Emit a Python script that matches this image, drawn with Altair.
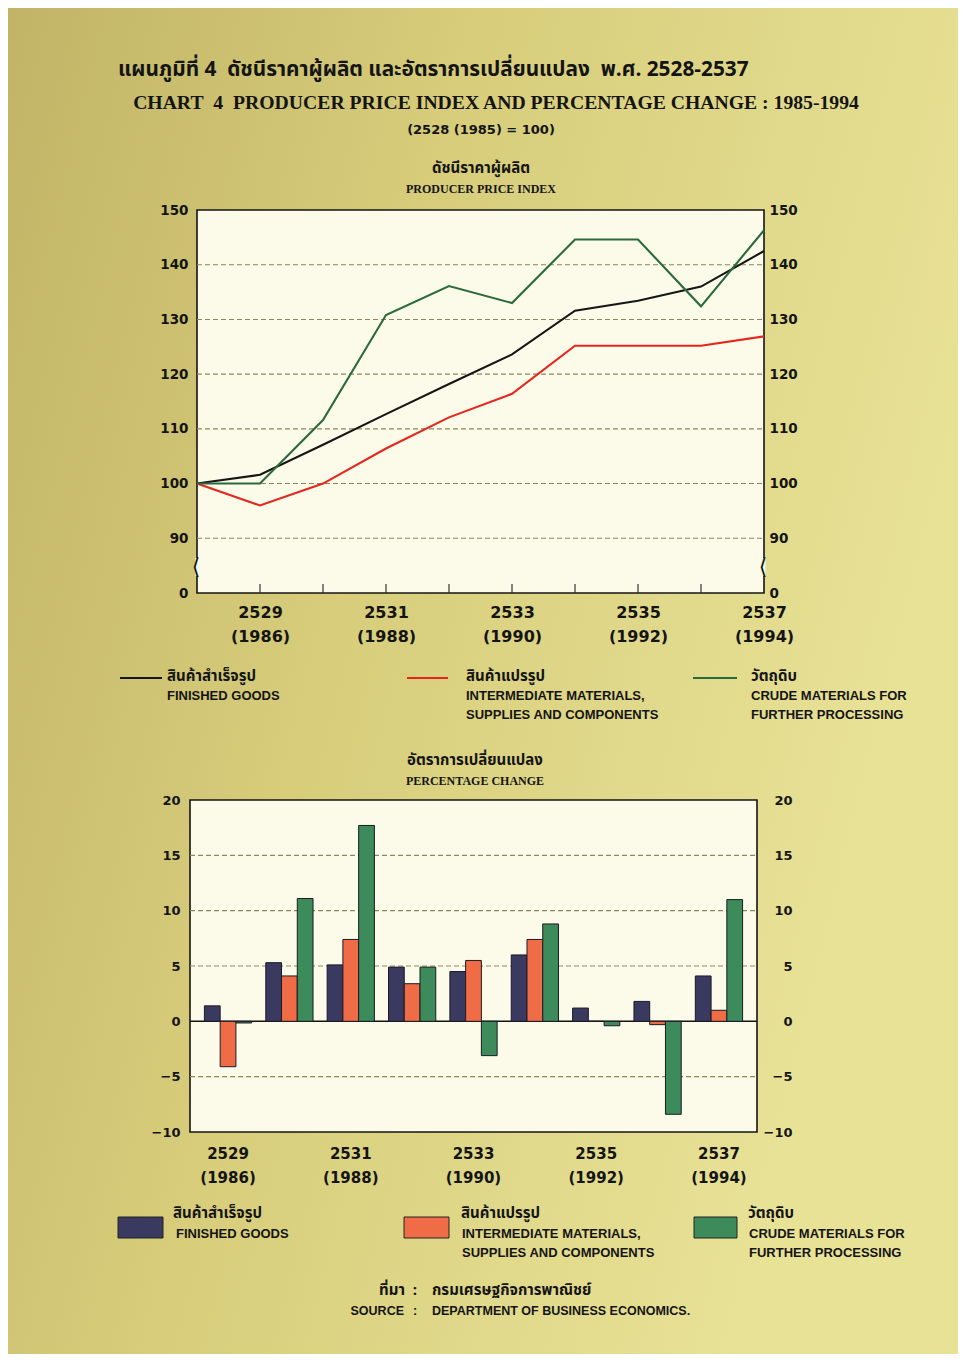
import altair as alt
import pandas as pd

# ---------------- data ----------------
years = [1985, 1986, 1987, 1988, 1989, 1990, 1991, 1992, 1993, 1994]
finished = [100, 101.6, 107.1, 112.7, 118.2, 123.6, 131.6, 133.4, 136.0, 142.5]
intermediate = [100, 96.0, 100.0, 106.4, 112.1, 116.4, 125.2, 125.2, 125.2, 126.9]
crude = [100, 100.0, 111.6, 130.8, 136.1, 133.0, 144.6, 144.6, 132.4, 146.3]

bar_years = [1986, 1987, 1988, 1989, 1990, 1991, 1992, 1993, 1994]
pct_finished = [1.4, 5.3, 5.1, 4.9, 4.5, 6.0, 1.2, 1.8, 4.1]
pct_intermediate = [-4.1, 4.1, 7.4, 3.4, 5.5, 7.4, 0.0, -0.3, 1.0]
pct_crude = [-0.15, 11.1, 17.7, 4.9, -3.1, 8.8, -0.4, -8.4, 11.0]

series_keys = ["finished", "intermediate", "crude"]
line_colors = ["#161616", "#e5261c", "#2b6a3b"]
bar_colors = ["#3a3960", "#ef6c47", "#3d8a5b"]

index_ticks = [80, 90, 100, 110, 120, 130, 140, 150]
index_grid = [90, 100, 110, 120, 130, 140]
inner_year_ticks = [1986, 1987, 1988, 1989, 1990, 1991, 1992, 1993]
label_years = [1986, 1988, 1990, 1992, 1994]
pct_ticks = [-10, -5, 0, 5, 10, 15, 20]
pct_grid = [-5, 5, 10, 15]

NB = "\u00a0"
title_th = "แผนภูมิที่ 4" + NB + " ดัชนีราคาผู้ผลิต และอัตราการเปลี่ยนแปลง" + NB + " พ.ศ. 2528-2537"
title_en = "CHART" + NB + " 4" + NB + " PRODUCER PRICE INDEX AND PERCENTAGE CHANGE : 1985-1994"
base_note = "(2528 (1985) = 100)"
sub1_th = "ดัชนีราคาผู้ผลิต"
sub1_en = "PRODUCER PRICE INDEX"
sub2_th = "อัตราการเปลี่ยนแปลง"
sub2_en = "PERCENTAGE CHANGE"
legend_th = ["สินค้าสำเร็จรูป", "สินค้าแปรรูป", "วัตถุดิบ"]
legend_en = [["FINISHED GOODS"],
             ["INTERMEDIATE MATERIALS,", "SUPPLIES AND COMPONENTS"],
             ["CRUDE MATERIALS FOR", "FURTHER PROCESSING"]]
source_th = ["ที่มา", ":", "กรมเศรษฐกิจการพาณิชย์"]
source_en = ["SOURCE", ":", "DEPARTMENT OF BUSINESS ECONOMICS."]

# ---------------- tables ----------------
line_df = pd.DataFrame({
    "year": years * 3,
    "series": ["finished"] * 10 + ["intermediate"] * 10 + ["crude"] * 10,
    "value": finished + intermediate + crude,
})
bar_df = pd.DataFrame({
    "year": bar_years * 3,
    "series": ["finished"] * 9 + ["intermediate"] * 9 + ["crude"] * 9,
    "value": pct_finished + pct_intermediate + pct_crude,
})
one = pd.DataFrame({"k": [0]})

NUM = "DejaVu Sans"
SERIF = "Liberation Serif"
SANS = "Liberation Sans"
THAI = "Noto Sans Thai, Loma, Garuda, Tlwg Typo, Noto Sans, sans-serif"
INK = "#141414"
CREAM = "#fcfbea"


def txt(s, x, y, size, font, align="left", weight="bold", color=INK):
    return alt.Chart(one).mark_text(
        text=s, align=align, baseline="middle", fontSize=size, font=font,
        fontWeight=weight, color=color,
    ).encode(x=alt.value(x), y=alt.value(y))


axis_num = dict(domain=False, ticks=False, tickSize=0, grid=False, title=None, zindex=1,
                labelFont=NUM, labelFontWeight="bold", labelColor=INK)

# ---------------- panel 1 : index lines ----------------
W1, H1, L1 = 574, 383, 7
xs1 = alt.Scale(domain=[1985, 1994], range=[L1, W1], nice=False, zero=False)
ys1 = alt.Scale(domain=[80, 150], nice=False, zero=False)

xaxis1 = alt.Axis(
    values=label_years, labelPadding=11, labelFontSize=16, labelLineHeight=24,
    labelFlush=False, labelOverlap=False,
    labelExpr="[toString(datum.value + 543), '(' + toString(datum.value) + ')']",
    **axis_num)

bg_gradient = alt.Gradient(
    gradient="linear",
    stops=[alt.GradientStop(color="#c1b466", offset=0),
           alt.GradientStop(color="#d7cd7b", offset=0.45),
           alt.GradientStop(color="#e8e297", offset=1)],
    x1=0, y1=0, x2=1, y2=0.35,
)
page_bg = alt.Chart(one).mark_rect(fill=bg_gradient).encode(
    x=alt.value(-182), x2=alt.value(768), y=alt.value(-202), y2=alt.value(1144))
frame1 = alt.Chart(one).mark_rect(fill=CREAM, stroke=INK, strokeWidth=1.6).encode(
    x=alt.value(L1), x2=alt.value(W1), y=alt.value(0), y2=alt.value(H1))

grid1 = alt.Chart(pd.DataFrame({"v": index_grid})).mark_rule(
    color="#8d875a", strokeDash=[5, 3], strokeWidth=1.1).encode(
    y=alt.Y("v:Q", scale=ys1, axis=alt.Axis(
        orient="right", values=index_ticks, labelPadding=5, labelFontSize=13.5,
        labelExpr="datum.value == 80 ? '0' : datum.label", **axis_num)),
    x=alt.value(L1), x2=alt.value(W1))

yticks1 = alt.Chart(pd.DataFrame({"year": inner_year_ticks})).mark_rule(
    color="#333333", strokeWidth=1.2).encode(
    x=alt.X("year:Q", scale=xs1, axis=xaxis1), y=alt.value(H1 - 9), y2=alt.value(H1))

lines = alt.Chart(line_df).mark_line(strokeWidth=2.1).encode(
    x=alt.X("year:Q", scale=xs1, axis=xaxis1),
    y=alt.Y("value:Q", scale=ys1, axis=alt.Axis(
        orient="left", values=index_ticks, labelPadding=2, labelFontSize=13.5,
        labelExpr="datum.value == 80 ? '0' : datum.label", **axis_num)),
    color=alt.Color("series:N", scale=alt.Scale(domain=series_keys, range=line_colors), legend=None),
    order=alt.Order("year:Q"),
)

# axis-break marks on both vertical axes
break_cut = [alt.Chart(one).mark_rect(fill=CREAM).encode(
    x=alt.value(xx - 1.5), x2=alt.value(xx + 1.5), y=alt.value(348), y2=alt.value(366))
    for xx in (L1, W1)]
breaks1 = [txt("⟨", xx - 1, 357, 22, NUM, align="center", weight="normal") for xx in (L1, W1)]

head = [
    txt(title_th, -72, -140, 20.8, THAI),
    txt(title_en, 306, -107, 19.7, SERIF, align="center"),
    txt(base_note, 291, -80, 13, NUM, align="center"),
    txt(sub1_th, 291, -42, 15, THAI, align="center"),
    txt(sub1_en, 291, -21, 12, SERIF, align="center"),
]

leg1_x_line = [(-70, -28), (217, 258), (503, 547)]
leg1_x_text = [-23, 276, 561]
leg1 = []
for i in range(3):
    a, b = leg1_x_line[i]
    leg1.append(alt.Chart(one).mark_rule(color=line_colors[i], strokeWidth=2).encode(
        x=alt.value(a), x2=alt.value(b), y=alt.value(468)))
    leg1.append(txt(legend_th[i], leg1_x_text[i], 466, 15, THAI))
    for j, s in enumerate(legend_en[i]):
        leg1.append(txt(s, leg1_x_text[i], 486 + 19 * j, 13, SANS))

panel1 = alt.layer(page_bg, frame1, grid1, yticks1, lines, *break_cut, *breaks1, *head, *leg1).resolve_axis(
    y="independent").properties(width=W1, height=H1)

# ---------------- panel 2 : percentage change bars ----------------
W2, H2 = 567, 332
ys2 = alt.Scale(domain=[-10, 20], nice=False, zero=False)

frame2 = alt.Chart(one).mark_rect(fill=CREAM, stroke=INK, strokeWidth=1.6).encode(
    x=alt.value(0), x2=alt.value(W2), y=alt.value(0), y2=alt.value(H2))

grid2 = alt.Chart(pd.DataFrame({"v": pct_grid})).mark_rule(
    color="#8d875a", strokeDash=[5, 3], strokeWidth=1.1).encode(
    y=alt.Y("v:Q", scale=ys2, axis=alt.Axis(
        orient="right", values=pct_ticks, labelPadding=35, labelAlign="right",
        labelFontSize=13, **axis_num)),
    x=alt.value(0), x2=alt.value(W2))

zero2 = alt.Chart(pd.DataFrame({"v": [0]})).mark_rule(color=INK, strokeWidth=1.5).encode(
    y=alt.Y("v:Q", scale=ys2, axis=None), x=alt.value(0), x2=alt.value(W2))

bars = alt.Chart(bar_df).mark_bar(stroke="#1b1b26", strokeWidth=1).encode(
    x=alt.X("year:O", scale=alt.Scale(paddingInner=0.23, paddingOuter=0.235), axis=alt.Axis(
        labelAngle=0, labelPadding=14, labelFontSize=15, labelLineHeight=24,
        labelExpr="(datum.value - 1986) % 2 == 0 ? [toString(datum.value + 543), '(' + toString(datum.value) + ')'] : ''",
        **axis_num)),
    xOffset=alt.XOffset("series:N", scale=alt.Scale(domain=series_keys, paddingInner=0)),
    y=alt.Y("value:Q", scale=ys2, axis=alt.Axis(
        orient="left", values=pct_ticks, labelPadding=10, labelFontSize=13, **axis_num)),
    color=alt.Color("series:N", scale=alt.Scale(domain=series_keys, range=bar_colors), legend=None),
)

head2 = [txt(sub2_th, 285, -40, 15, THAI, align="center"),
         txt(sub2_en, 285, -19, 12, SERIF, align="center")]

leg2_x_box = [(-72, -27), (214, 259), (504, 547)]
leg2_x_text = [-17, 271, 558]
leg2 = []
for i in range(3):
    a, b = leg2_x_box[i]
    leg2.append(alt.Chart(one).mark_rect(fill=bar_colors[i], stroke="#222222", strokeWidth=1).encode(
        x=alt.value(a), x2=alt.value(b), y=alt.value(417), y2=alt.value(438)))
    leg2.append(txt(legend_th[i], leg2_x_text[i], 413, 15, THAI))
    for j, s in enumerate(legend_en[i]):
        leg2.append(txt(s, leg2_x_text[i] + (3 if i == 0 else 1), 434 + 19 * j, 13, SANS))

src = [
    txt(source_th[0], 215, 490, 15, THAI, align="right"),
    txt(source_th[1], 225, 490, 15, THAI, align="center"),
    txt(source_th[2], 242, 490, 15, THAI),
    txt(source_en[0], 214, 511, 12.5, SANS, align="right"),
    txt(source_en[1], 225, 511, 12.5, SANS, align="center"),
    txt(source_en[2], 242, 511, 12.5, SANS),
]

panel2 = alt.layer(frame2, grid2, zero2, bars, *head2, *leg2, *src).resolve_axis(
    y="independent").properties(width=W2, height=H2)

chart = alt.vconcat(panel1, panel2, spacing=207, bounds="flush").resolve_scale(
    color="independent").properties(padding=0, background="#d8ce7c").configure_view(stroke=None)

chart.save("out.html", embed_options={"renderer": "svg", "actions": False})
